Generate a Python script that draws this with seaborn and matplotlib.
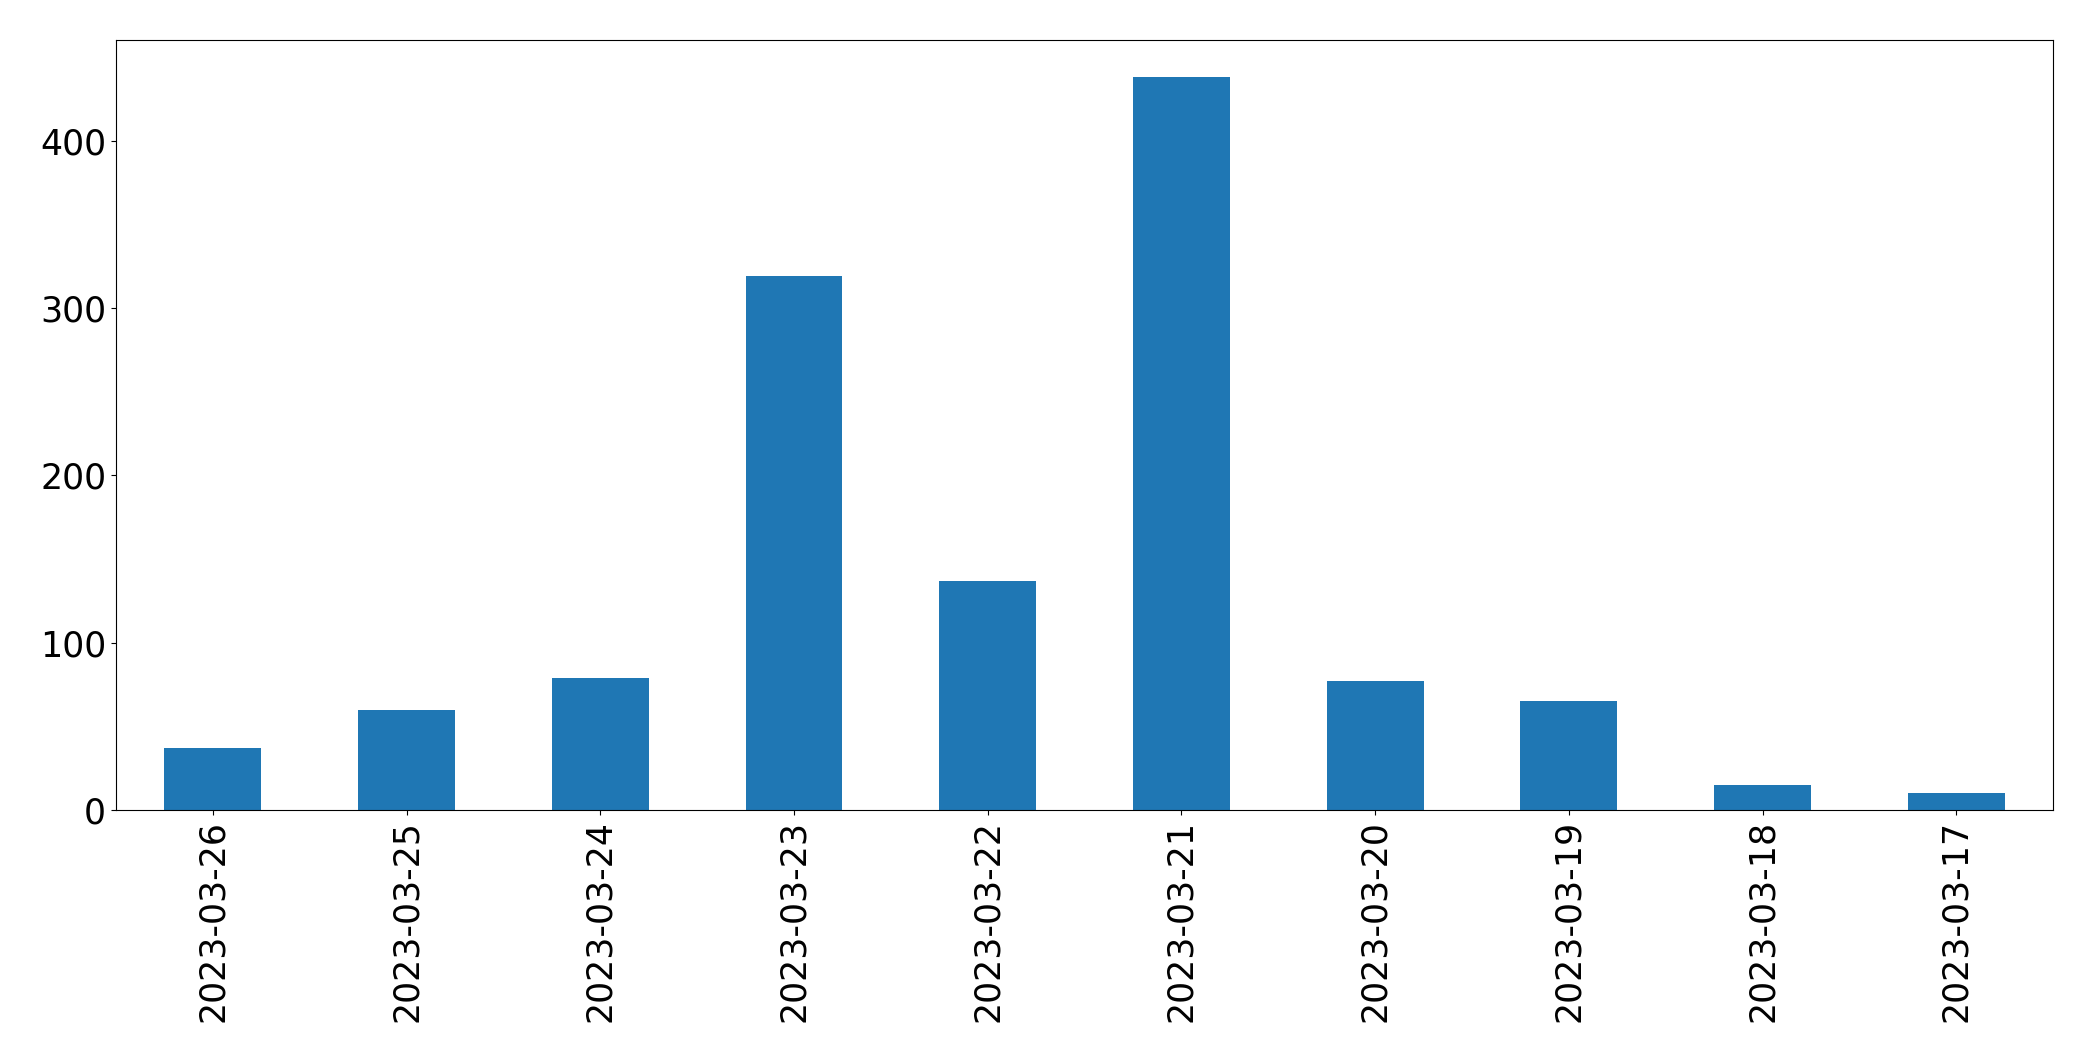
import pandas as pd
import matplotlib
matplotlib.use('Agg')
import matplotlib.pyplot as plt
import seaborn as sns

# Daily counts, newest first (as in the original)
dates = ['2023-03-26', '2023-03-25', '2023-03-24', '2023-03-23', '2023-03-22',
         '2023-03-21', '2023-03-20', '2023-03-19', '2023-03-18', '2023-03-17']
counts = [37, 60, 79, 319, 137, 438, 77, 65, 15, 10]

BAR_COLOR = '#1f77b4'

df = pd.DataFrame({'date': dates, 'count': counts})

fig, ax = plt.subplots(figsize=(20.93, 10.61), dpi=100)
sns.barplot(data=df, x='date', y='count', order=dates, color=BAR_COLOR,
            saturation=1, width=0.5, linewidth=0, ax=ax)

ax.set_xlim(-0.5, len(dates) - 0.5)
ax.set_ylim(0, max(counts) * 1.05)
ax.set_xlabel('')
ax.set_ylabel('')
ax.tick_params(axis='both', labelsize=25)
plt.setp(ax.get_xticklabels(), rotation=90)
for s in ax.spines.values():
    s.set_edgecolor('black')

plt.subplots_adjust(left=0.0554, right=0.981, top=0.962, bottom=0.2366)
plt.savefig('out.png', dpi=100)
plt.close()
